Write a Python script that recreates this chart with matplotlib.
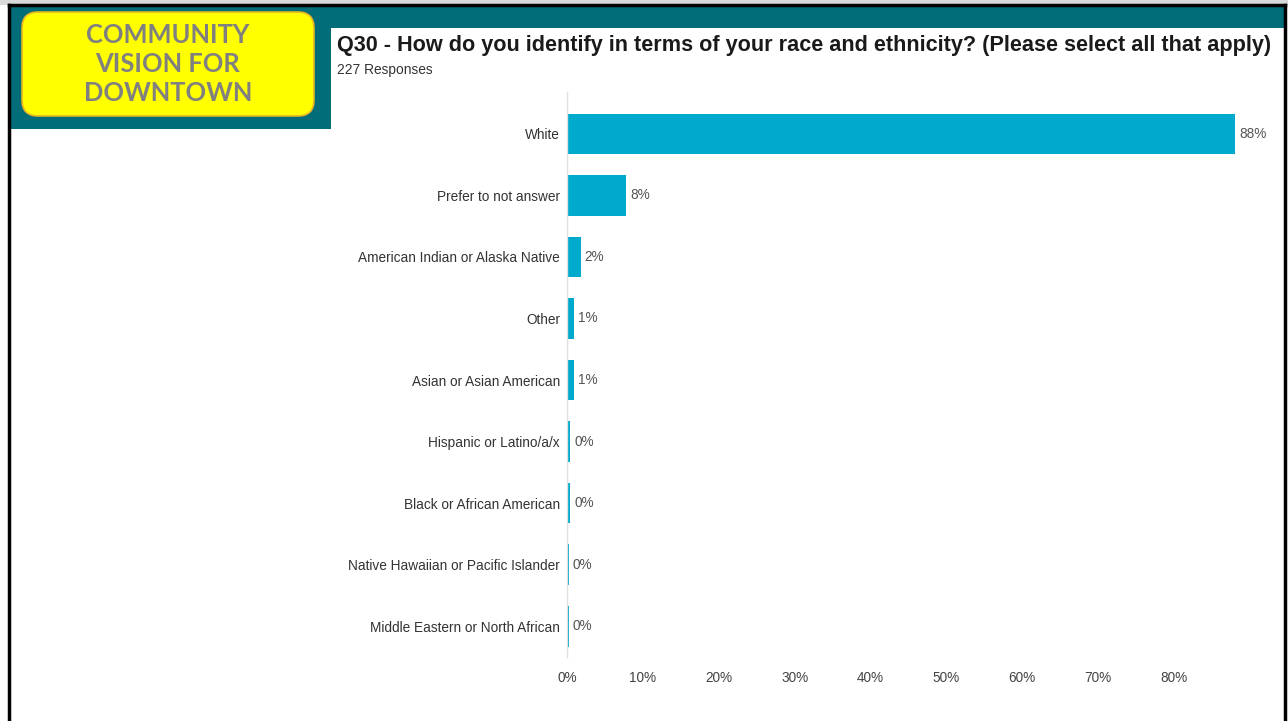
import matplotlib
matplotlib.use("Agg")
import matplotlib.pyplot as plt
from matplotlib.patches import Rectangle, FancyBboxPatch

categories = ["White", "Prefer to not answer", "American Indian or Alaska Native", "Other",
              "Asian or Asian American", "Hispanic or Latino/a/x", "Black or African American",
              "Native Hawaiian or Pacific Islander", "Middle Eastern or North African"]
values = [88.0, 7.8, 1.8, 0.9, 0.9, 0.44, 0.44, 0.2, 0.2]
value_labels = ["88%", "8%", "2%", "1%", "1%", "0%", "0%", "0%", "0%"]
xticks = [0, 10, 20, 30, 40, 50, 60, 70, 80]
xtick_labels = ["0%", "10%", "20%", "30%", "40%", "50%", "60%", "70%", "80%"]

W, H = 1288, 721
fig = plt.figure(figsize=(W / 100, H / 100), dpi=100)
fig.patch.set_facecolor("white")

# background / decoration axes in pixel coordinates
bg = fig.add_axes([0, 0, 1, 1])
bg.set_xlim(0, W)
bg.set_ylim(H, 0)
bg.axis("off")
bg.add_patch(Rectangle((0, 0), W, 5, facecolor="#d9d9d9", edgecolor="none"))
teal = "#006d79"
bg.add_patch(Rectangle((10, 5), W - 14, 23, facecolor=teal, edgecolor="none"))
bg.add_patch(Rectangle((10, 5), 321, 124, facecolor=teal, edgecolor="none"))
# borders
bg.plot([9, 9], [5, H], color="black", lw=2.5)
bg.plot([1285, 1285], [5, H], color="black", lw=2.5)
bg.plot([9, 1285], [5, 5], color="black", lw=2.5)
# yellow box
bg.add_patch(FancyBboxPatch((22, 12), 292, 104, boxstyle="round,pad=0,rounding_size=16",
                            facecolor="#ffff00", edgecolor="#e6b422", lw=1.2))
bg.text(168, 64, "COMMUNITY\nVISION FOR\nDOWNTOWN", ha="center", va="center",
        fontsize=18.4, fontweight="bold", color="#808080", family="Lato",
        linespacing=1.24)
bg.text(337, 46, "Q30 - How do you identify in terms of your race and ethnicity? (Please select all that apply)",
        ha="left", va="center", fontsize=15.6, fontweight="bold", color="#1a1a1a",
        family="Liberation Sans")
bg.text(337, 70, "227 Responses", ha="left", va="center", fontsize=9.9, color="#333333",
        family="Liberation Sans")

# chart axes
ax_left, ax_right = 567, 1250
ax_top, ax_bottom = 92, 657
ax = fig.add_axes([ax_left / W, 1 - ax_bottom / H, (ax_right - ax_left) / W, (ax_bottom - ax_top) / H])
ax.set_facecolor("none")
y = list(range(len(categories)))
ax.barh(y, values, height=0.66, color="#00aacc", edgecolor="none")
ax.set_xlim(0, 90)
ax.set_ylim(len(categories) - 0.5, -0.68)
for s in ["top", "right", "bottom"]:
    ax.spines[s].set_visible(False)
ax.spines["left"].set_color("#e0e0e0")
ax.spines["left"].set_linewidth(1)
ax.set_yticks(y)
ax.set_yticklabels(categories, fontsize=9.8, color="#333333", family="Liberation Sans")
ax.set_xticks(xticks)
ax.set_xticklabels(xtick_labels, fontsize=9.8, color="#444444", family="Liberation Sans")
ax.tick_params(axis="both", length=0)
ax.tick_params(axis="y", pad=5)
ax.tick_params(axis="x", pad=10)
for yi, v, lab in zip(y, values, value_labels):
    ax.annotate(lab, (v, yi), xytext=(3, 0), textcoords="offset points", ha="left", va="center",
                fontsize=9.8, color="#555555", family="Liberation Sans")

fig.savefig("out.png", dpi=100)
